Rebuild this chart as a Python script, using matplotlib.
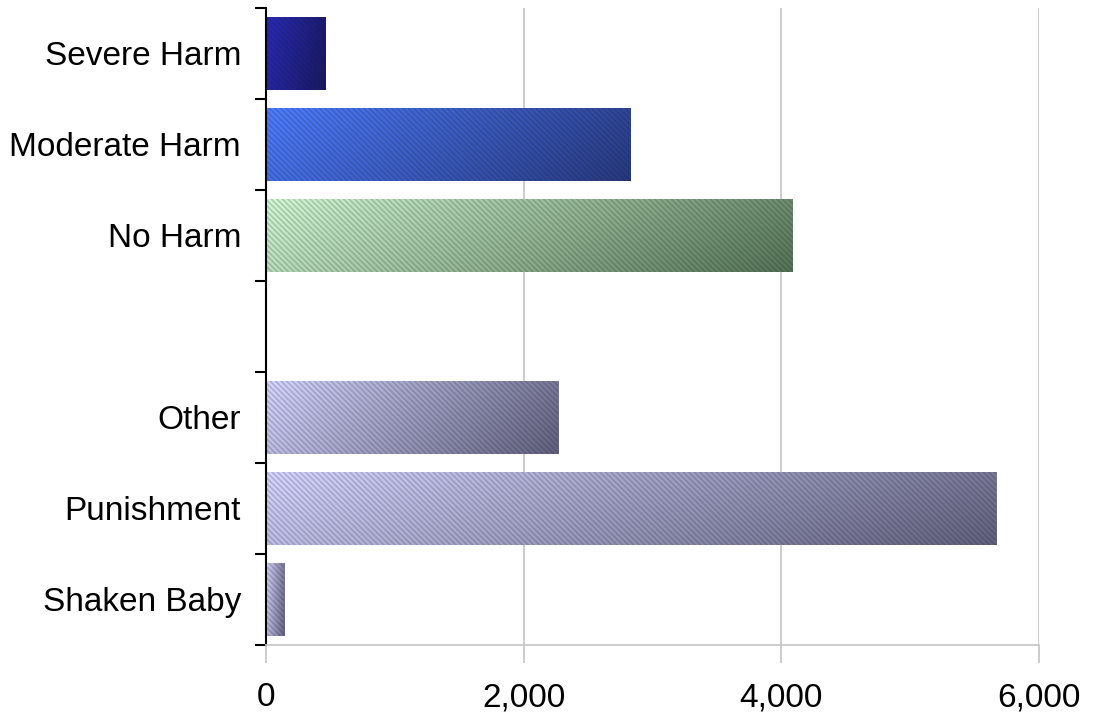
import numpy as np
import matplotlib.pyplot as plt
from matplotlib.colors import LinearSegmentedColormap

# Data, top to bottom (empty slot separates the two groups)
categories = ['Severe Harm', 'Moderate Harm', 'No Harm', '', 'Other', 'Punishment', 'Shaken Baby']
values = [460, 2830, 4090, np.nan, 2270, 5670, 140]
x_ticks = [0, 2000, 4000, 6000]
x_tick_labels = ['0', '2,000', '4,000', '6,000']

# Light -> dark colour per bar
light_colors = ['#2a2ab8', '#4d7dff', '#d2fad2', None, '#d6d6ff', '#d6d6ff', '#d6d6ff']
dark_colors = ['#181860', '#27397e', '#557455', None, '#62627e', '#62627e', '#62627e']

plt.rcParams['font.family'] = ['Liberation Sans', 'DejaVu Sans']
plt.rcParams['hatch.linewidth'] = 1.2

fig = plt.figure(figsize=(11.02, 7.13), dpi=100)
ax = fig.add_axes([0.2414, 0.0954, 0.7014, 0.8934])

pos = np.arange(len(categories))
bar_h = 0.8

# gradient image: diagonal, light top-left, dark bottom-right
gx, gy = np.meshgrid(np.linspace(0, 1, 200), np.linspace(0, 1, 40))
grad = 0.8 * gx + 0.2 * gy

for i, (cat, val) in enumerate(zip(categories, values)):
    if np.isnan(val):
        continue
    cmap = LinearSegmentedColormap.from_list('g%d' % i, [light_colors[i], dark_colors[i]])
    bar = ax.barh(pos[i], val, height=bar_h, color='none', edgecolor='none', zorder=2)[0]
    im = ax.imshow(grad, cmap=cmap, aspect='auto', interpolation='bilinear',
                   extent=(0, val, pos[i] + bar_h / 2, pos[i] - bar_h / 2), zorder=2)
    im.set_clip_path(bar)
    # diagonal stripe texture
    ax.barh(pos[i], val, height=bar_h, color='none', hatch='\\\\\\\\\\\\',
            edgecolor=(0.1, 0.1, 0.2, 0.2), linewidth=0, zorder=3)

ax.set_xlim(0, 6000)
ax.set_ylim(len(categories) - 0.5, -0.5)

# grid and axes styling
ax.set_xticks(x_ticks)
ax.set_xticklabels(x_tick_labels, fontsize=24)
ax.xaxis.grid(True, color='#c8c8c8', linewidth=1.3, zorder=0)
ax.set_axisbelow(True)
ax.tick_params(axis='x', length=13, width=1.3, color='#c8c8c8', pad=14)

ax.set_yticks(np.arange(len(categories) + 1) - 0.5)
ax.set_yticklabels([])
ax.set_yticks(pos, minor=True)
ax.set_yticklabels(categories, minor=True, fontsize=24)
ax.tick_params(axis='y', which='major', length=8, width=1.5, color='black', direction='out')
ax.tick_params(axis='y', which='minor', length=0, pad=18)

for side in ['top', 'right']:
    ax.spines[side].set_visible(False)
ax.spines['left'].set_color('black')
ax.spines['left'].set_linewidth(1.5)
ax.spines['bottom'].set_color('#c8c8c8')
ax.spines['bottom'].set_linewidth(1.3)

fig.savefig('out.png', dpi=100)
